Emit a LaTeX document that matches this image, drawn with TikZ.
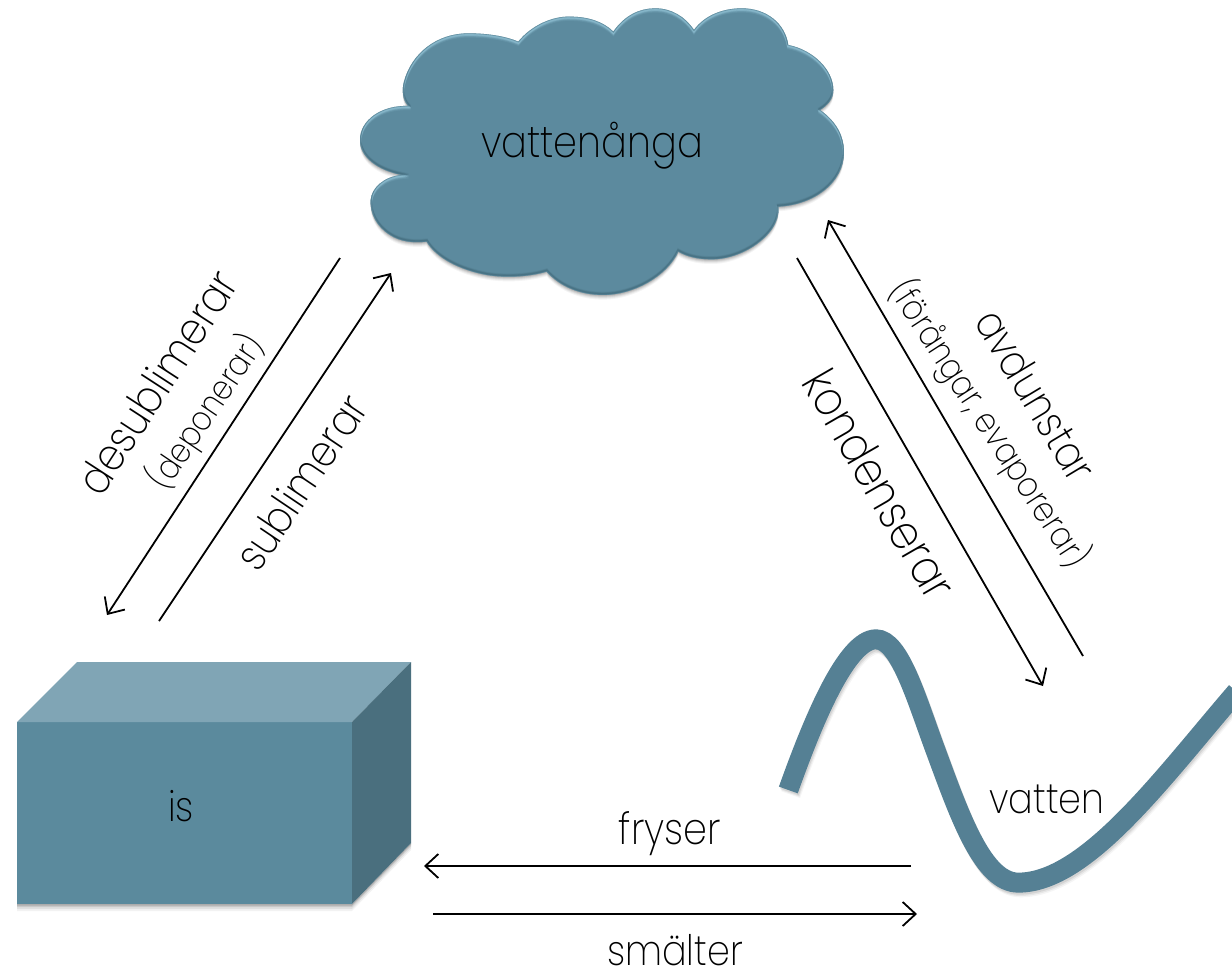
\documentclass[tikz,border=0pt]{standalone}
\usepackage{fontspec}
\setmainfont{Poppins}[UprightFont=* ExtraLight,FakeStretch=0.87]
\usetikzlibrary{arrows.meta}
\definecolor{cloudc}{HTML}{5C8A9E}
\definecolor{cloudhi}{HTML}{9CCDE0}
\definecolor{cloudlo}{HTML}{3A6172}
\definecolor{boxfront}{HTML}{5B8A9D}
\definecolor{boxtop}{HTML}{80A5B5}
\definecolor{boxside}{HTML}{4A6F7E}
\definecolor{wavec}{HTML}{558094}
\newcommand{\cloudpath}{(205,318) .. controls (188,300) and (185,270) .. (192,245)
 .. controls (215,160) and (290,100) .. (385,100)
 .. controls (440,100) and (495,108) .. (535,125)
 .. controls (575,75) and (640,48) .. (690,50)
 .. controls (745,50) and (790,65) .. (820,95)
 .. controls (855,45) and (900,25) .. (945,25)
 .. controls (995,25) and (1035,50) .. (1062,90)
 .. controls (1095,45) and (1150,25) .. (1205,25)
 .. controls (1280,25) and (1335,70) .. (1345,135)
 .. controls (1420,150) and (1480,210) .. (1480,270)
 .. controls (1480,295) and (1465,315) .. (1440,330)
 .. controls (1490,365) and (1512,410) .. (1512,455)
 .. controls (1512,550) and (1420,615) .. (1315,620)
 .. controls (1318,640) and (1310,670) .. (1290,695)
 .. controls (1245,750) and (1170,780) .. (1110,778)
 .. controls (1075,778) and (1040,770) .. (1015,755)
 .. controls (980,830) and (880,885) .. (790,885)
 .. controls (720,885) and (660,860) .. (620,815)
 .. controls (570,830) and (500,835) .. (440,825)
 .. controls (360,810) and (290,775) .. (260,725)
 .. controls (220,730) and (180,725) .. (150,705)
 .. controls (110,680) and (90,640) .. (92,600)
 .. controls (95,565) and (130,530) .. (185,525)
 .. controls (110,510) and (60,470) .. (60,420)
 .. controls (60,360) and (125,315) .. (205,318) -- cycle}
\newcommand{\wavepath}{(55,510) .. controls (130,300) and (230,58) .. (318,58)
 .. controls (390,58) and (440,240) .. (500,400)
 .. controls (570,590) and (640,788) .. (745,788)
 .. controls (950,788) and (1180,470) .. (1400,215)}
\tikzset{
  x=1pt,y=-1pt,
  every node/.style={inner sep=0pt,text=black},
  arr/.style={line width=1.8pt,-{Straight Barb[length=13pt,width=24pt,line width=1.8pt]}},
  lab/.style={font=\fontsize{#1}{#1}\selectfont},
}
\begin{document}
\begin{tikzpicture}
\useasboundingbox (0,0) rectangle (1232,969);
\fill[white] (0,0) rectangle (1232,969);
% cloud
\begin{scope}[shift={(340,0)},x=0.3333pt,y=-0.3333pt]
  \foreach \d/\o in {14/0.04,11/0.05,8/0.07,5/0.09,2/0.12}{
    \fill[black,opacity=\o,shift={(0,\d)}] \cloudpath;
  }
  \fill[cloudc] \cloudpath;
  \begin{scope}
    \clip \cloudpath;
    \foreach \d/\o in {9/0.12,6/0.2,4/0.3,2/0.4}{
      \draw[cloudhi,line width=2.5pt,opacity=\o,shift={(0,\d)}] \cloudpath;
    }
    \foreach \d/\o in {6/0.14,4/0.22,2/0.35}{
      \draw[cloudlo,line width=2.5pt,opacity=\o,shift={(0,-\d)}] \cloudpath;
    }
  \end{scope}
\end{scope}
% box
\foreach \d/\o in {7/0.05,5/0.07,3/0.1,1.5/0.14}{
  \fill[black,opacity=\o] (17,904) -- (352,904) -- (411,843) -- (411,843+\d) -- (352,904+\d) -- (17,904+\d) -- cycle;
}
\fill[boxfront] (17,722) rectangle (352,904);
\fill[boxtop] (17,722) -- (77,662) -- (411,662) -- (352,722) -- cycle;
\fill[boxside] (352,722) -- (411,662) -- (411,843) -- (352,904) -- cycle;
% wave
\begin{scope}[shift={(770,620)},x=0.3333pt,y=-0.3333pt]
  \foreach \d/\o in {14/0.04,10/0.06,6/0.08}{
    \draw[black,opacity=\o,line width=20pt,shift={(\d/2,\d)}] \wavepath;
  }
  \draw[wavec,line width=20pt] \wavepath;
\end{scope}
% labels
\node[lab=44] (nvapor) at (592,146) {vattenånga};
\node[lab=42] (nice) at (181,806) {is};
\node[lab=42] (nwater) at (1047,799) {vatten};
\node[lab=44] (nfreeze) at (670,834) {fryser};
\node[lab=42] (nmelt) at (675,950) {smälter};
\node[lab=45,rotate=57] (ndesub) at (157,382) {desublimerar};
\node[lab=34,rotate=56] (ndepo) at (206,412) {(deponerar)};
\node[lab=44,rotate=56] (nsub) at (301,482) {sublimerar};
\node[lab=48,rotate=-60] (ncond) at (880,484) {kondenserar};
\node[lab=44,rotate=-59] (nevap) at (1036,395) {avdunstar};
\node[lab=35,rotate=-57] (nvap2) at (989,424) {(förångar, evaporerar)};
% connectors
\coordinate (a1) at (340,258); \coordinate (a2) at (107,615);
\coordinate (b1) at (159,621); \coordinate (b2) at (391,273);
\coordinate (c1) at (797,258); \coordinate (c2) at (1043,686);
\coordinate (d1) at (1083,656); \coordinate (d2) at (828,220);
\coordinate (e1) at (911,866); \coordinate (e2) at (424,866);
\coordinate (f1) at (433,914); \coordinate (f2) at (917,914);
\draw[arr] (a1) -- (a2);
\draw[arr] (b1) -- (b2);
\draw[arr] (c1) -- (c2);
\draw[arr] (d1) -- (d2);
\draw[arr] (e1) -- (e2);
\draw[arr] (f1) -- (f2);
\end{tikzpicture}
\end{document}
